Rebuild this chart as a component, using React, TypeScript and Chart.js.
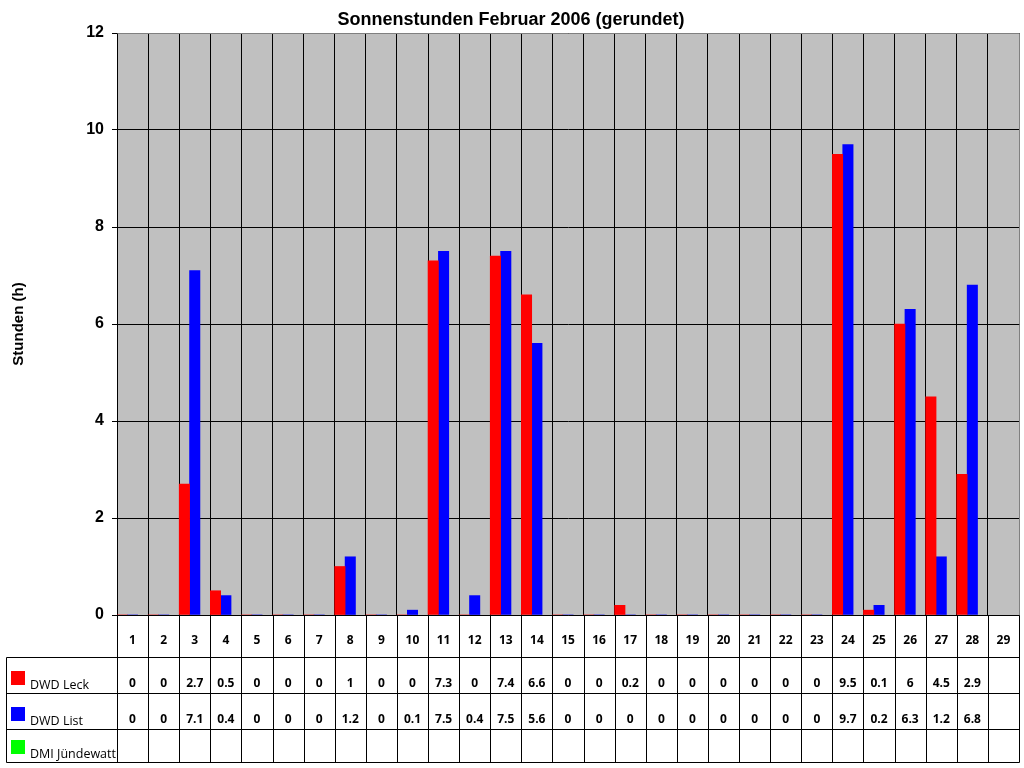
import React, { useEffect, useRef } from "react";
import { Chart, registerables } from "chart.js";

Chart.register(...registerables);

const days: string[] = [
  "1","2","3","4","5","6","7","8","9","10","11","12","13","14","15",
  "16","17","18","19","20","21","22","23","24","25","26","27","28","29",
];
const leck: (number | null)[] = [0,0,2.7,0.5,0,0,0,1,0,0,7.3,0,7.4,6.6,0,0,0.2,0,0,0,0,0,0,9.5,0.1,6,4.5,2.9,null];
const list: (number | null)[] = [0,0,7.1,0.4,0,0,0,1.2,0,0.1,7.5,0.4,7.5,5.6,0,0,0,0,0,0,0,0,0,9.7,0.2,6.3,1.2,6.8,null];
const juendewatt: (number | null)[] = days.map(() => null);
const seriesNames = ["DWD Leck", "DWD List", "DMI Jündewatt"];
const seriesColors = ["#FF0000", "#0000FF", "#00FF00"];
const titleText = "Sonnenstunden Februar 2006 (gerundet)";
const yTitle = "Stunden (h)";

const TABLE_ROWS = [657, 693, 729, 762];
const LEGEND_LEFT = 6;

const px = (v: number) => Math.round(v) + 0.5;

const tablePlugin = {
  id: "excelTable",
  beforeDraw(chart: any) {
    const { ctx, chartArea } = chart;
    ctx.save();
    ctx.fillStyle = "#C0C0C0";
    ctx.fillRect(chartArea.left, chartArea.top, chartArea.right - chartArea.left, chartArea.bottom - chartArea.top);
    ctx.restore();
  },
  afterDraw(chart: any) {
    const { ctx, chartArea } = chart;
    const xs = chart.scales.x;
    const n = days.length;
    const w = (chartArea.right - chartArea.left) / n;
    ctx.save();
    ctx.strokeStyle = "#808080";
    ctx.lineWidth = 1;
    ctx.beginPath();
    ctx.moveTo(px(chartArea.left), px(chartArea.top));
    ctx.lineTo(px(chartArea.right), px(chartArea.top));
    ctx.lineTo(px(chartArea.right), px(chartArea.bottom));
    ctx.stroke();

    ctx.fillStyle = "#000";
    ctx.font = "bold 18px 'Liberation Sans', Arial, sans-serif";
    ctx.textAlign = "center";
    ctx.textBaseline = "middle";
    ctx.fillText(titleText, 511, 20);

    ctx.save();
    ctx.translate(19, (chartArea.top + chartArea.bottom) / 2);
    ctx.rotate(-Math.PI / 2);
    ctx.font = "bold 15px 'Liberation Sans', Arial, sans-serif";
    ctx.fillText(yTitle, 0, 0);
    ctx.restore();

    ctx.strokeStyle = "#000";
    ctx.beginPath();
    const bottom = chartArea.bottom;
    for (let i = 0; i <= n; i++) {
      const bx = xs.getPixelForValue(i) - w / 2;
      ctx.moveTo(px(bx), px(bottom));
      ctx.lineTo(px(bx), px(TABLE_ROWS[TABLE_ROWS.length - 1]));
    }
    for (const y of TABLE_ROWS) {
      ctx.moveTo(px(LEGEND_LEFT), px(y));
      ctx.lineTo(px(chartArea.right), px(y));
    }
    ctx.moveTo(px(LEGEND_LEFT), px(TABLE_ROWS[0]));
    ctx.lineTo(px(LEGEND_LEFT), px(TABLE_ROWS[TABLE_ROWS.length - 1]));
    ctx.stroke();

    const cellFont = "bold 12px 'Open Sans', sans-serif";
    ctx.font = cellFont;
    ctx.textAlign = "center";
    ctx.textBaseline = "middle";
    days.forEach((d, i) => {
      ctx.fillText(d, xs.getPixelForValue(i), 641);
    });

    const data = [leck, list, juendewatt];
    data.forEach((arr, r) => {
      const rowBottom = TABLE_ROWS[r + 1];
      ctx.fillStyle = seriesColors[r];
      ctx.fillRect(11, rowBottom - 22, 14, 14);
      ctx.fillStyle = "#000";
      ctx.font = "12.5px 'Open Sans', sans-serif";
      ctx.textAlign = "left";
      ctx.textBaseline = "alphabetic";
      ctx.fillText(seriesNames[r], 30, rowBottom - 4);
      ctx.font = cellFont;
      ctx.textAlign = "center";
      ctx.textBaseline = "middle";
      arr.forEach((v, i) => {
        if (v === null || v === undefined) return;
        ctx.fillText(String(v), xs.getPixelForValue(i), rowBottom - 9.5);
      });
    });
    ctx.restore();
  },
};

export default function App() {
  const ref = useRef<HTMLCanvasElement | null>(null);
  useEffect(() => {
    if (!ref.current) return;
    const chart = new Chart(ref.current, {
      type: "bar",
      data: {
        labels: days,
        datasets: [
          { label: seriesNames[0], data: leck, backgroundColor: seriesColors[0], borderWidth: 0 },
          { label: seriesNames[1], data: list, backgroundColor: seriesColors[1], borderWidth: 0 },
          { label: seriesNames[2], data: juendewatt, backgroundColor: seriesColors[2], borderWidth: 0 },
        ],
      },
      options: {
        responsive: false,
        animation: false,
        devicePixelRatio: 1,
        layout: { padding: { left: 0, right: 5, top: 33, bottom: 153 } },
        datasets: { bar: { categoryPercentage: 1, barPercentage: 1 } },
        plugins: { legend: { display: false }, title: { display: false }, tooltip: { enabled: false } },
        scales: {
          x: {
            offset: true,
            grid: { offset: true, color: "#000", drawTicks: false, lineWidth: 1 },
            border: { color: "#000" },
            ticks: { display: false },
            afterFit: (s: any) => { s.height = 0; },
          },
          y: {
            min: 0,
            max: 12,
            ticks: {
              stepSize: 2,
              color: "#000",
              padding: 8,
              font: { family: "'Liberation Sans', Arial, sans-serif", size: 16, weight: "bold" },
            },
            grid: { color: "#000", tickLength: 5, lineWidth: 1 },
            border: { color: "#000" },
            afterFit: (s: any) => { s.width = 117; },
          },
        },
      },
      plugins: [tablePlugin],
    } as any);
    return () => chart.destroy();
  }, []);
  return (
    <div style={{ position: "absolute", left: 0, top: 0, width: 1024, height: 768, background: "#fff" }}>
      <canvas ref={ref} width={1024} height={768} />
    </div>
  );
}
